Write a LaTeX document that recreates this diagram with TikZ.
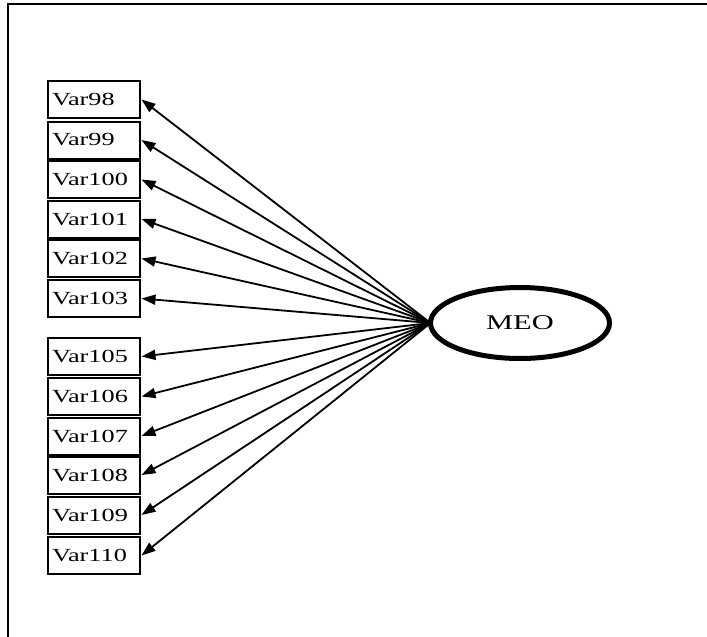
\documentclass[tikz,border=0pt]{standalone}
\usepackage{fontspec}
\usepackage{graphicx}
\setmainfont{Liberation Serif}
\usetikzlibrary{arrows.meta,shapes.geometric}

\tikzset{
  itembox/.style={draw, line width=2pt, rectangle, minimum width=92pt,
    minimum height=37pt, inner sep=0pt, outer sep=0pt,
    font=\fontsize{18.5}{18.5}\selectfont},
  latentvar/.style={draw, line width=5pt, ellipse, minimum width=179pt,
    minimum height=71pt, inner sep=0pt, outer sep=0pt,
    font=\fontsize{21}{21}\selectfont},
  loading/.style={line width=1.8pt, -{Triangle[length=14pt,width=10pt]}},
  frameline/.style={line width=2pt}
}
\newcommand{\boxlabel}[1]{\makebox[84pt][l]{\scalebox{1.42}[1]{#1}}}

\begin{document}
\begin{tikzpicture}[x=1pt,y=-1pt]
  \useasboundingbox (0,0) rectangle (707,637);
  \fill[white] (0,0) rectangle (707,637);

  % outer frame (top and left edges)
  \draw[frameline] (8,637) -- (8,4) -- (707,4);

  % latent factor
  \node[latentvar] (meo) at (520,323) {\scalebox{1.45}[1]{MEO}};

  % indicators
  \foreach \name/\yy in {98/99.5, 99/140, 100/179.5, 101/219, 102/258.5,
      103/298.5, 105/356.5, 106/396.5, 107/436, 108/475, 109/515, 110/555.5} {
    \node[itembox] (v\name) at (94,\yy) {\boxlabel{Var\name}};
    \draw[loading] (meo.west) -- ([xshift=1.5pt]v\name.east);
  }
\end{tikzpicture}
\end{document}
